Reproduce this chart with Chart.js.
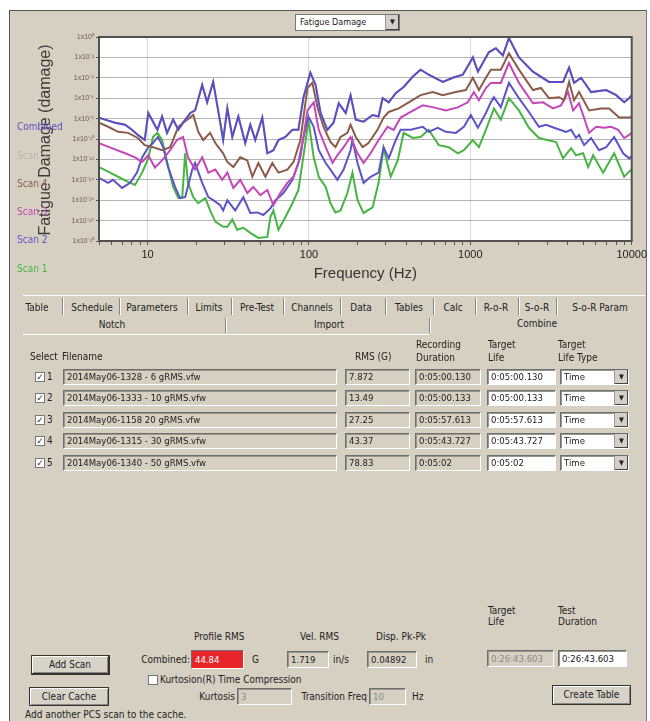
<!DOCTYPE html>
<html>
<head>
<meta charset="utf-8">
<script src="https://cdn.jsdelivr.net/npm/chart.js@4/dist/chart.umd.min.js"></script>
<style>
  body { margin: 0; width: 650px; height: 721px; overflow: hidden; background: #fff; position: relative;
         font-family: "Liberation Sans Narrow", "DejaVu Sans Condensed", "Liberation Sans", sans-serif; font-size: 10px; color: #222; }
  .a { position: absolute; white-space: nowrap; }
  .r { transform: translateX(-100%); }
  #frame { left: 9px; top: 10px; width: 636px; height: 720px; background: #d6d0c3; border-left: 1px solid #555; border-top: 1px solid #555; border-right: 1px solid #777; }
  #chartBox { left: 0; top: 0; width: 650px; height: 290px; }
  .box { height: 14px; line-height: 14px; padding-left: 3px; box-sizing: border-box; background: #d6d0c3;
         border-top: 1px solid #6e6e6e; border-left: 1px solid #6e6e6e; border-bottom: 1px solid #fff; border-right: 1px solid #fff;
         box-shadow: inset 1px 1px 0 #9a968c; font-size: 9.5px; }
  .white { background: #fff; }
  .dim { color: #8a8a8a; }
  .chk { width: 10px; height: 10px; box-sizing: border-box; background: #fff; border: 1px solid #777; font-size: 9px; line-height: 8px; text-align: center; font-weight: bold; }
  .arrow { position: absolute; right: 0; top: 0; width: 13px; height: 100%; background: #d4d0c8; border-left: 1px solid #999;
           box-shadow: inset -1px -1px 0 #444; font-size: 7px; text-align: center; line-height: 14px; }
  .btn { height: 20px; line-height: 18px; text-align: center; box-sizing: border-box; background: #d8d3c8;
         border: 1px solid #333; box-shadow: inset 1px 1px 0 #fff, inset -1px -1px 0 #888; font-size: 10px; }
  .sep { top: 298px; height: 17px; width: 0; border-left: 1px solid #8a867c; border-right: 1px solid #fff; }
  .tab { top: 302px; transform: translateX(-50%); }
  .legend { font-size: 10px; }
</style>
</head>
<body>
<div id="frame" class="a"></div>
<div id="chartBox" class="a"><canvas id="chart"></canvas></div>

<div class="a" style="left:295px;top:14px;width:105px;height:17px;background:#fff;border:1px solid #777;box-sizing:border-box;">
  <span class="a" style="left:4px;top:2px;font-size:9px;">Fatigue Damage</span>
  <div class="arrow" style="line-height:15px;">▼</div>
</div>

<div class="a" style="left:-65px;top:131px;width:220px;height:18px;line-height:18px;text-align:center;transform:rotate(-90deg);font-size:16px;color:#3a3a3a;font-family:'Liberation Sans',sans-serif;">Fatigue Damage (damage)</div>
<div id="legend"></div>

<div class="a" style="left:23px;top:295px;width:622px;height:0;border-top:1px solid #fff;"></div>
<div id="tabs"></div>
<div class="a" style="left:23px;top:334px;width:406px;height:0;border-top:1px solid #fff;"></div>
<div class="a sep" style="left:225px;top:318px;height:15px;"></div>
<div class="a sep" style="left:429px;top:318px;height:15px;"></div>
<div class="a" style="left:112px;top:319px;transform:translateX(-50%);">Notch</div>
<div class="a" style="left:329px;top:319px;transform:translateX(-50%);">Import</div>
<div class="a" style="left:537px;top:318px;transform:translateX(-50%);">Combine</div>

<div class="a" style="left:30px;top:351px;">Select</div>
<div class="a" style="left:62px;top:351px;">Filename</div>
<div class="a" style="left:355px;top:351px;">RMS (G)</div>
<div class="a" style="left:416px;top:338px;line-height:13px;">Recording<br>Duration</div>
<div class="a" style="left:488px;top:338px;line-height:13px;">Target<br>Life</div>
<div class="a" style="left:558px;top:338px;line-height:13px;">Target<br>Life Type</div>
<div id="rows"></div>

<div class="a" style="left:488px;top:605px;line-height:11px;">Target<br>Life</div>
<div class="a" style="left:558px;top:605px;line-height:11px;">Test<br>Duration</div>
<div class="a" style="left:194px;top:631px;">Profile RMS</div>
<div class="a" style="left:300px;top:631px;">Vel. RMS</div>
<div class="a" style="left:376px;top:631px;">Disp. Pk-Pk</div>
<div class="a r" style="left:190px;top:654px;">Combined:</div>
<div class="a box" style="left:191px;top:650px;width:53px;height:19px;line-height:17px;background:#e8262a;color:#fff;box-shadow:none;">44.84</div>
<div class="a" style="left:252px;top:654px;">G</div>
<div class="a box" style="left:287px;top:651px;width:42px;height:17px;line-height:15px;">1.719</div>
<div class="a" style="left:333px;top:654px;">in/s</div>
<div class="a box" style="left:367px;top:651px;width:50px;height:17px;line-height:15px;">0.04892</div>
<div class="a" style="left:425px;top:654px;">in</div>
<div class="a box dim" style="left:487px;top:650px;width:67px;height:17px;line-height:15px;">0:26:43.603</div>
<div class="a box white" style="left:558px;top:650px;width:69px;height:17px;line-height:15px;">0:26:43.603</div>
<div class="a btn" style="left:31px;top:655px;width:79px;border-bottom-width:2px;border-right-width:2px;">Add Scan</div>
<div class="a chk" style="left:148px;top:675px;"></div>
<div class="a" style="left:160px;top:674px;">Kurtosion(R) Time Compression</div>
<div class="a btn" style="left:29px;top:687px;width:80px;height:19px;">Clear Cache</div>
<div class="a r" style="left:235px;top:691px;">Kurtosis</div>
<div class="a box dim" style="left:237px;top:688px;width:55px;height:17px;line-height:15px;">3</div>
<div class="a r" style="left:367px;top:691px;">Transition Freq</div>
<div class="a box dim" style="left:369px;top:688px;width:37px;height:17px;line-height:15px;">10</div>
<div class="a" style="left:412px;top:691px;">Hz</div>
<div class="a btn" style="left:552px;top:685px;width:79px;">Create Table</div>
<div class="a" style="left:25px;top:709px;">Add another PCS scan to the cache.</div>

<script>
// frequency (Hz), log10 of fatigue damage
const combinedPts = [[5, -7.9], [5.45, -8.1], [6.3, -8.4], [7.25, -8.6], [8, -9.1], [8.7, -9.6], [9.6, -10.1], [10.1, -7.45],
  [11.5, -9.1], [12.3, -7.8], [13.2, -9.4], [14.4, -8.1], [15.5, -9.1], [16.6, -8.4], [18.4, -7.45], [19.7, -7.2], [21.8, -4.7],
  [23.4, -6.4], [25.5, -4.4], [28.2, -8.4], [29.4, -10.1], [31.2, -7], [33.5, -9.8], [36.5, -7.8], [40.3, -10.4], [43.3, -8.6],
  [46.5, -10.1], [51.4, -7.9], [55.2, -11.4], [60.2, -11.1], [64.7, -10.1], [71.5, -9.8], [79, -9.1], [86, -9.1], [92.5, -5.9],
  [102, -3.5], [110, -4.7], [118, -7.45], [130, -9.1], [142, -8.4], [153, -6.5], [169, -7.45], [181, -5.7], [195, -8.1],
  [218, -8.3], [248, -7.65], [270, -7.8], [286, -6], [312, -6.4], [345, -5.5], [386, -4.9], [439, -3.9], [492, -3.2], [552, -3.7],
  [675, -4.4], [778, -4], [898, -3.7], [1037, -2], [1114, -3.4], [1302, -1.5], [1439, -1.1], [1591, -1.8], [1734, -0.1],
  [2001, -2], [2443, -3.4], [3073, -4.4], [3755, -4.4], [4094, -3], [4394, -4.5], [4857, -4], [5600, -5.4], [6950, -5.2],
  [8015, -5.7], [8980, -6.4], [9640, -6], [10000, -5.7]];
const scan5Pts = combinedPts;
const scan4Pts = [[5, -8.4], [5.7, -8.8], [6.56, -9.3], [7.57, -9.4], [8.7, -9.9], [9.6, -10.6], [10.8, -10.8], [12.3, -11.1],
  [13.8, -10.8], [15.5, -8.8], [17.6, -8.1], [19.2, -7.65], [20.6, -9.3], [22.1, -10.1], [24.4, -9.4], [26.3, -10.4],
  [29.4, -11.4], [31.2, -12.25], [34, -12.75], [37.5, -11.8], [41.5, -12.1], [44.6, -13.7], [48.6, -12.35], [53.7, -13.7],
  [59.3, -12.35], [64.7, -13.3], [73.5, -13], [80.2, -12.25], [88.5, -10.1], [97.9, -5], [105, -4.5], [113, -6.9], [123, -8.8],
  [136, -10.3], [146, -10.8], [157, -9.8], [173, -9.4], [181, -8.6], [195, -9.8], [215, -10.8], [234, -10.4], [266, -9.1],
  [290, -7.9], [312, -7.35], [360, -7], [415, -6.4], [492, -5.7], [585, -5.4], [675, -5.7], [813, -5.4], [938, -5.2],
  [1037, -4], [1130, -5.2], [1249, -4], [1340, -3.2], [1545, -3.2], [1734, -1.6], [2001, -3.2], [2443, -5.2], [2738, -5],
  [3073, -6], [3547, -5.9], [3811, -6.2], [4094, -4.4], [4394, -6.2], [4719, -5.4], [5445, -7.2], [6457, -7], [7245, -7],
  [8360, -7.9], [9640, -7.9], [10000, -7.8]];
const scan3Pts = [[5, -10.4], [6, -10.9], [7.25, -11.4], [8.36, -11.8], [9.25, -12.25], [10.1, -11.6], [11.1, -12.8],
  [12.3, -12.1], [13.8, -11.1], [15.2, -10.1], [16.6, -9.8], [17.8, -11.8], [19.7, -13], [21.8, -11.8], [23.8, -13.3],
  [26.3, -13], [29, -14], [31.2, -13.3], [34, -14.8], [37.5, -14], [41.5, -15.3], [45.2, -14.7], [50, -15.5], [55.2, -15],
  [60.2, -16.5], [66.5, -15.3], [73.5, -14.3], [80.2, -13.7], [88.5, -11.8], [97.9, -7.2], [107, -6.4], [115, -9.1],
  [127, -10.8], [140, -12.35], [150, -11.6], [164, -10.8], [181, -9.8], [200, -11.4], [218, -12.35], [241, -11.4],
  [270, -10.1], [307, -8.8], [335, -9.1], [370, -7.9], [427, -7.35], [507, -6.7], [593, -6.9], [705, -7.2], [836, -6.9],
  [965, -6.4], [1052, -5.4], [1130, -6.2], [1249, -5], [1340, -4.5], [1545, -4.5], [1734, -2.55], [2001, -4.5], [2443, -6.5],
  [2820, -6.4], [3254, -7], [3648, -6.7], [4033, -5.4], [4334, -7.2], [4719, -6.5], [5445, -9.4], [6015, -8.8], [6745, -8.9],
  [7460, -8.8], [8245, -9.1], [8980, -9.9], [9640, -9.6], [10000, -9.4]];
const scan2Pts = [[5, -13.8], [5.7, -14.3], [6.1, -14], [6.95, -14.8], [7.8, -14.3], [8.6, -13.3], [9.25, -11.8], [10.1, -10.8],
  [10.8, -10.4], [11.6, -9.8], [12.5, -10.8], [13.4, -12.75], [14.8, -14.7], [15.9, -15.8], [17.1, -15.7], [18.9, -13],
  [19.7, -12.35], [21.8, -14.3], [23.8, -15.7], [25.5, -16], [28.2, -16.5], [29.4, -17], [31.2, -16], [34.9, -17],
  [39.2, -15.7], [43.3, -17.25], [47.9, -17.2], [52.1, -17.45], [57.7, -16.8], [62, -16], [69.5, -15.3], [79, -14],
  [86, -12.35], [92.5, -9.8], [99.3, -7.8], [107, -8.8], [115, -11.1], [127, -12.35], [140, -13.3], [150, -14], [164, -13],
  [181, -11.1], [186, -10.1], [200, -12.35], [218, -14.3], [241, -13.7], [270, -13.3], [290, -10.8], [312, -11.9],
  [345, -10.1], [370, -9.1], [427, -9.1], [507, -8.8], [552, -9.3], [628, -8.9], [705, -9.3], [813, -9.4], [912, -8.8],
  [1007, -7.65], [1114, -8.9], [1249, -7.45], [1340, -6.4], [1400, -5.9], [1545, -6.9], [1734, -4.5], [2001, -6], [2307, -7.35],
  [2662, -8.8], [2942, -8.6], [3303, -8.9], [3920, -9.3], [4210, -9.1], [4521, -9.9], [4719, -9.6], [5070, -10.6], [5600, -9.9],
  [6280, -11.1], [6950, -10.8], [7785, -9.8], [8855, -11.4], [9640, -11.9], [10000, -11.7]];
const scan1Pts = [[5, -12.75], [5.7, -13.2], [6.56, -13.7], [7.57, -14.2], [8.36, -14.5], [9.25, -13.3], [10.1, -11.9],
  [10.8, -9.8], [11.5, -9.4], [12.3, -10.1], [13.2, -12.25], [14.4, -14.7], [15.5, -15.8], [16.4, -15.7], [17.1, -11.4],
  [17.8, -14.3], [19.2, -15.7], [20.6, -16.3], [22.8, -15.8], [24.4, -17], [26.3, -18.1], [29.4, -18.6], [31.2, -18.6],
  [33.5, -17.9], [35.9, -18.9], [39.2, -18.7], [43.3, -19.2], [48.6, -19.7], [55.2, -19.6], [57.7, -17.65], [60.2, -17],
  [64.7, -18.9], [71.5, -17.65], [79, -16.3], [86, -15], [95, -10.4], [99.3, -8.1], [107, -11.8], [115, -13.7], [127, -14.7],
  [136, -16.3], [146, -17.2], [157, -17], [173, -15.3], [186, -13.3], [200, -16], [218, -17.25], [248, -16.7], [270, -14.3],
  [290, -10.9], [321, -13.7], [355, -12.1], [386, -9.4], [439, -9.9], [492, -9.8], [552, -9.1], [637, -10.6], [735, -10.8],
  [836, -11.4], [912, -11.1], [1037, -10.1], [1130, -10.8], [1249, -9.1], [1400, -7], [1545, -8.1], [1734, -6], [2001, -7.2],
  [2307, -8.9], [2662, -9.9], [3397, -10.3], [3755, -11.9], [4210, -10.9], [4521, -11.6], [5000, -11.4], [5370, -12.75],
  [5765, -11.6], [6648, -13.3], [7785, -11.4], [8980, -13.7], [9640, -13.2], [10000, -13]];

const seriesNames = ['Combined', 'Scan 5', 'Scan 4', 'Scan 3', 'Scan 2', 'Scan 1'];
const seriesColors = ['#5a4ec2', '#b9b5ad', '#8c5b49', '#c447b9', '#5c54c8', '#48b444'];
const seriesPts = [combinedPts, scan5Pts, scan4Pts, scan3Pts, scan2Pts, scan1Pts];

const xTickValues = [5, 6, 7, 8, 9, 10, 20, 30, 40, 50, 60, 70, 80, 90, 100, 200, 300, 400, 500, 600, 700, 800, 900,
  1000, 2000, 3000, 4000, 5000, 6000, 7000, 8000, 9000, 10000];
const xLabels = [10, 100, 1000, 10000];

const tabNames = ['Table', 'Schedule', 'Parameters', 'Limits', 'Pre-Test', 'Channels', 'Data', 'Tables', 'Calc', 'R-o-R', 'S-o-R', 'S-o-R Param'];
const tabCenters = [37, 92, 152, 209, 257, 312, 361, 409, 453, 496, 537, 600];
const tabSeps = [62, 119, 187, 231, 283, 340, 385, 433, 475, 518, 556];

const fileNames = ['2014May06-1328 - 6 gRMS.vfw', '2014May06-1333 - 10 gRMS.vfw', '2014May06-1158 20 gRMS.vfw',
  '2014May06-1315 - 30 gRMS.vfw', '2014May06-1340 - 50 gRMS.vfw'];
const rmsValues = ['7.872', '13.49', '27.25', '43.37', '78.83'];
const recDurations = ['0:05:00.130', '0:05:00.133', '0:05:57.613', '0:05:43.727', '0:05:02'];
const targetLives = ['0:05:00.130', '0:05:00.133', '0:05:57.613', '0:05:43.727', '0:05:02'];

const sup = { '-': '⁻', '0': '⁰', '1': '¹', '2': '²', '3': '³', '4': '⁴', '5': '⁵', '6': '⁶', '7': '⁷', '8': '⁸', '9': '⁹' };

// legend on the left
const legendTops = [121, 150, 178, 206, 234, 263];
document.getElementById('legend').innerHTML = seriesNames.map((n, i) =>
  `<div class="a legend" style="left:17px;top:${legendTops[i]}px;color:${seriesColors[i]}">${n}</div>`).join('');

// tabs
document.getElementById('tabs').innerHTML =
  tabNames.map((t, i) => `<div class="a tab" style="left:${tabCenters[i]}px">${t}</div>`).join('') +
  tabSeps.map(x => `<div class="a sep" style="left:${x}px"></div>`).join('');

// file rows
const rowCenters = [377, 398, 420, 441, 463];
document.getElementById('rows').innerHTML = fileNames.map((f, i) => {
  const t = rowCenters[i] - 8;
  return `<div class="a chk" style="left:35px;top:${t + 3}px">✓</div>
    <div class="a" style="left:47px;top:${t + 2}px">${i + 1}</div>
    <div class="a box" style="left:63px;top:${t}px;width:274px;height:16px;line-height:14px">${f}</div>
    <div class="a box" style="left:345px;top:${t}px;width:65px;height:16px;line-height:14px">${rmsValues[i]}</div>
    <div class="a box" style="left:415px;top:${t}px;width:66px;height:16px;line-height:14px">${recDurations[i]}</div>
    <div class="a box white" style="left:487px;top:${t}px;width:69px;height:16px;line-height:14px">${targetLives[i]}</div>
    <div class="a box white" style="left:560px;top:${t}px;width:69px;height:16px;line-height:14px">Time<div class="arrow">▼</div></div>`;
}).join('');

const plotFrame = {
  id: 'plotFrame',
  beforeDraw(chart) {
    const a = chart.chartArea, c = chart.ctx;
    c.save();
    c.fillStyle = '#ffffff';
    c.fillRect(a.left, a.top, a.right - a.left, a.bottom - a.top);
    c.restore();
  },
  afterDraw(chart) {
    const a = chart.chartArea, c = chart.ctx;
    c.save();
    c.strokeStyle = '#505050';
    c.lineWidth = 2;
    c.strokeRect(a.left, a.top, a.right - a.left, a.bottom - a.top);
    c.restore();
  }
};

const ctx = document.getElementById('chart').getContext('2d');
new Chart(ctx, {
  type: 'line',
  data: {
    datasets: seriesPts.map((pts, i) => ({
      label: seriesNames[i],
      data: pts.map(p => ({ x: p[0], y: p[1] })),
      borderColor: seriesColors[i],
      borderWidth: 2,
      pointRadius: 0,
      tension: 0,
      fill: false
    }))
  },
  options: {
    responsive: true,
    maintainAspectRatio: false,
    animation: false,
    devicePixelRatio: 1,
    layout: { padding: { top: 37, right: 17, bottom: 7, left: 0 } },
    plugins: { legend: { display: false }, tooltip: { enabled: false } },
    scales: {
      x: {
        type: 'logarithmic',
        min: 5,
        max: 10000,
        afterBuildTicks: s => { s.ticks = xTickValues.map(v => ({ value: v })); },
        afterFit: s => { s.height = 42; },
        border: { display: false },
        grid: {
          color: c => xLabels.includes(c.tick && c.tick.value) ? 'rgba(150,150,150,0.35)' : 'rgba(0,0,0,0)',
          tickColor: '#555',
          tickLength: 4,
          drawTicks: true
        },
        ticks: {
          autoSkip: false,
          maxRotation: 0,
          padding: 3,
          color: '#222',
          font: { family: 'Liberation Sans', size: 11 },
          callback: v => xLabels.includes(v) ? String(v) : ''
        },
        title: { display: true, text: 'Frequency (Hz)', color: '#333', font: { family: 'Liberation Sans', size: 15 }, padding: 0 }
      },
      y: {
        type: 'linear',
        min: -20,
        max: 0,
        afterFit: s => { s.width = 99; },
        border: { display: false },
        grid: { color: 'rgba(120,120,120,0.55)', borderDash: [2, 3], tickLength: 3, tickColor: '#555' },
        ticks: {
          stepSize: 1,
          padding: 2,
          color: '#6d5a48',
          font: { family: 'Liberation Sans', size: 7 },
          callback: v => '1x10' + String(v).split('').map(ch => sup[ch] || ch).join('')
        }
      }
    }
  },
  plugins: [plotFrame]
});
</script>
</body>
</html>
